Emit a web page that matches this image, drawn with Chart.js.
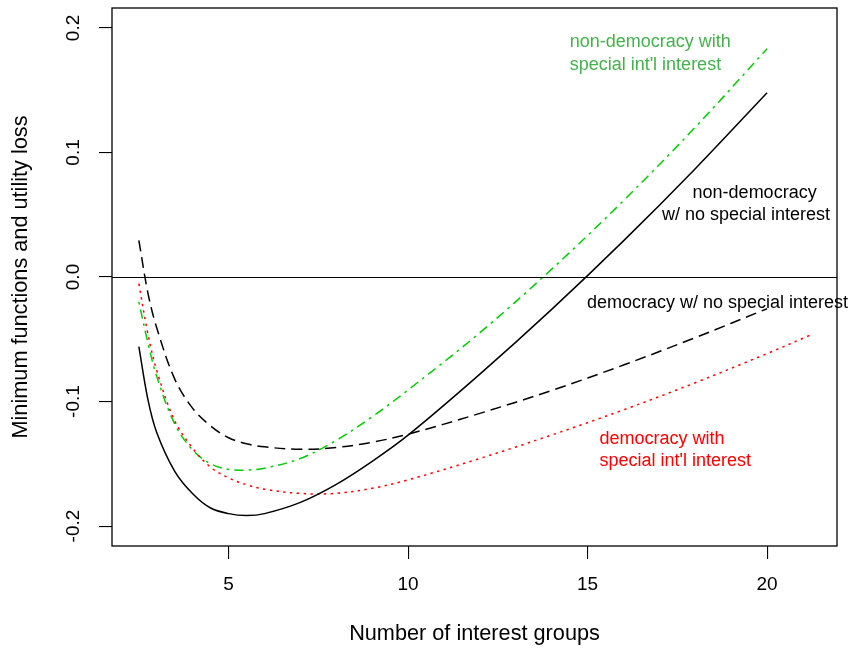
<!DOCTYPE html>
<html>
<head>
<meta charset="utf-8">
<script src="https://cdn.jsdelivr.net/npm/chart.js@4/dist/chart.umd.min.js"></script>
<style>
  html, body { margin: 0; padding: 0; background: #ffffff; }
  canvas { display: block; }
</style>
</head>
<body>
<canvas id="chart" width="852" height="652"></canvas>
<script>
// Number of interest groups at which each curve is evaluated
const groups = [2.5, 2.75, 3, 3.5, 4, 4.5, 5, 5.5, 6, 7, 8, 9, 10, 12, 14, 16, 18, 20];
const groupsDemSpecial = [2.5, 2.75, 3, 3.5, 4, 4.5, 5, 5.5, 6, 7, 8, 9, 10, 12, 14, 16, 18, 20, 21.2];

// Minimum functions and utility loss
const nonDemNoSpecial = [-0.056, -0.098, -0.125, -0.156, -0.174, -0.1855, -0.190, -0.1915, -0.190,
  -0.181, -0.1665, -0.148, -0.127, -0.078, -0.026, 0.029, 0.087, 0.148];
const nonDemSpecial = [-0.020, -0.0525, -0.080, -0.118, -0.139, -0.150, -0.1545, -0.155, -0.1535,
  -0.1457, -0.1312, -0.1122, -0.0907, -0.0447, 0.0063, 0.0613, 0.1203, 0.1833];
const demNoSpecial = [0.0295, -0.0125, -0.041, -0.082, -0.1055, -0.1196, -0.1291, -0.1339, -0.1364,
  -0.1384, -0.1369, -0.1327, -0.1262, -0.1095, -0.0911, -0.0707, -0.0487, -0.0255];
const demSpecial = [-0.0053, -0.0453, -0.0753, -0.1155, -0.1375, -0.1528, -0.1613, -0.1668, -0.1704,
  -0.1738, -0.1737, -0.1697, -0.1629, -0.1457, -0.1269, -0.1067, -0.0849, -0.0615, -0.0467];

// Axis ticks and reference line
const xTicks = [5, 10, 15, 20];
const yTicks = [-0.2, -0.1, 0.0, 0.1, 0.2];
const zeroLevel = 0;

const FONT = "'Liberation Sans', Arial, Helvetica, sans-serif";
const GREEN_LINE = '#00cd00';
const GREEN_TEXT = '#45b14c';
const RED = '#ff0000';

// Curve labels, placed in data units (left edge, vertical middle)
const curveNotes = [
  { text: 'non-democracy with', x: 14.50, y: 0.1883, color: GREEN_TEXT },
  { text: "special int'l interest", x: 14.50, y: 0.1700, color: GREEN_TEXT },
  { text: 'non-democracy', x: 17.925, y: 0.0675, color: '#000000' },
  { text: 'w/ no special interest', x: 17.072, y: 0.0496, color: '#000000' },
  { text: 'democracy w/ no special interest', x: 14.983, y: -0.0209, color: '#000000' },
  { text: 'democracy with', x: 15.334, y: -0.1298, color: RED },
  { text: "special int'l interest", x: 15.334, y: -0.1478, color: RED }
];

const pairs = (xs, ys) => xs.map((x, i) => ({ x: x, y: ys[i] }));

// Frame around the plotting region, the y = 0 reference line and the curve labels
const framePlugin = {
  id: 'frameAndNotes',
  afterDatasetsDraw(chart) {
    const { ctx, chartArea: a, scales: { x, y } } = chart;
    ctx.save();
    ctx.strokeStyle = '#000000';
    ctx.lineWidth = 1.1;
    const yz = Math.round(y.getPixelForValue(zeroLevel)) + 0.5;
    ctx.beginPath();
    ctx.moveTo(a.left, yz);
    ctx.lineTo(a.right, yz);
    ctx.stroke();
    ctx.lineWidth = 1.3;
    ctx.strokeRect(a.left, a.top, a.right - a.left, a.bottom - a.top);
    ctx.font = '18px ' + FONT;
    ctx.textAlign = 'left';
    ctx.textBaseline = 'middle';
    curveNotes.forEach(n => {
      ctx.fillStyle = n.color;
      ctx.fillText(n.text, x.getPixelForValue(n.x), y.getPixelForValue(n.y));
    });
    ctx.restore();
  }
};

const lineStyle = {
  pointRadius: 0,
  fill: false,
  borderWidth: 1.5,
  tension: 0.35,
  borderCapStyle: 'butt'
};

new Chart(document.getElementById('chart'), {
  type: 'line',
  data: {
    datasets: [
      Object.assign({ label: 'non-democracy w/ no special interest', data: pairs(groups, nonDemNoSpecial),
        borderColor: '#000000', borderDash: [] }, lineStyle),
      Object.assign({ label: 'democracy w/ no special interest', data: pairs(groups, demNoSpecial),
        borderColor: '#000000', borderDash: [11, 6] }, lineStyle),
      Object.assign({ label: "democracy with special int'l interest", data: pairs(groupsDemSpecial, demSpecial),
        borderColor: RED, borderDash: [2.4, 4.4] }, lineStyle),
      Object.assign({ label: "non-democracy with special int'l interest", data: pairs(groups, nonDemSpecial),
        borderColor: GREEN_LINE, borderDash: [2.6, 5, 9.5, 5] }, lineStyle)
    ]
  },
  options: {
    responsive: false,
    animation: false,
    layout: { padding: { top: 8, right: 15, left: 0, bottom: 0 } },
    plugins: { legend: { display: false }, tooltip: { enabled: false } },
    scales: {
      x: {
        type: 'linear',
        min: 1.752,
        max: 21.948,
        afterBuildTicks: s => { s.ticks = xTicks.map(v => ({ value: v })); },
        afterFit: s => { s.height = 106; s.paddingLeft = 0; s.paddingRight = 0; },
        grid: { drawOnChartArea: false, drawTicks: true, tickLength: 13, color: '#000000', lineWidth: 1.1 },
        border: { display: false },
        ticks: { color: '#000000', font: { family: FONT, size: 19 }, padding: 14.6,
                 maxRotation: 0, minRotation: 0, autoSkip: false,
                 callback: v => String(v) },
        title: { display: true, text: 'Number of interest groups', color: '#000000',
                 font: { family: FONT, size: 21.7 }, padding: { top: 0, bottom: 5 } }
      },
      y: {
        type: 'linear',
        min: -0.216,
        max: 0.216,
        afterBuildTicks: s => { s.ticks = yTicks.map(v => ({ value: v })); },
        afterFit: s => { s.width = 112; s.paddingTop = 0; s.paddingBottom = 0; },
        grid: { drawOnChartArea: false, drawTicks: true, tickLength: 13, color: '#000000', lineWidth: 1.1 },
        border: { display: false },
        ticks: { color: '#000000', font: { family: FONT, size: 19 }, padding: 9.3,
                 minRotation: 90, maxRotation: 90, crossAlign: 'center', autoSkip: false,
                 callback: v => v.toFixed(1) },
        title: { display: true, text: 'Minimum functions and utility loss', color: '#000000',
                 font: { family: FONT, size: 21.7 }, padding: { top: 8, bottom: 0 } }
      }
    }
  },
  plugins: [framePlugin]
});
</script>
</body>
</html>
